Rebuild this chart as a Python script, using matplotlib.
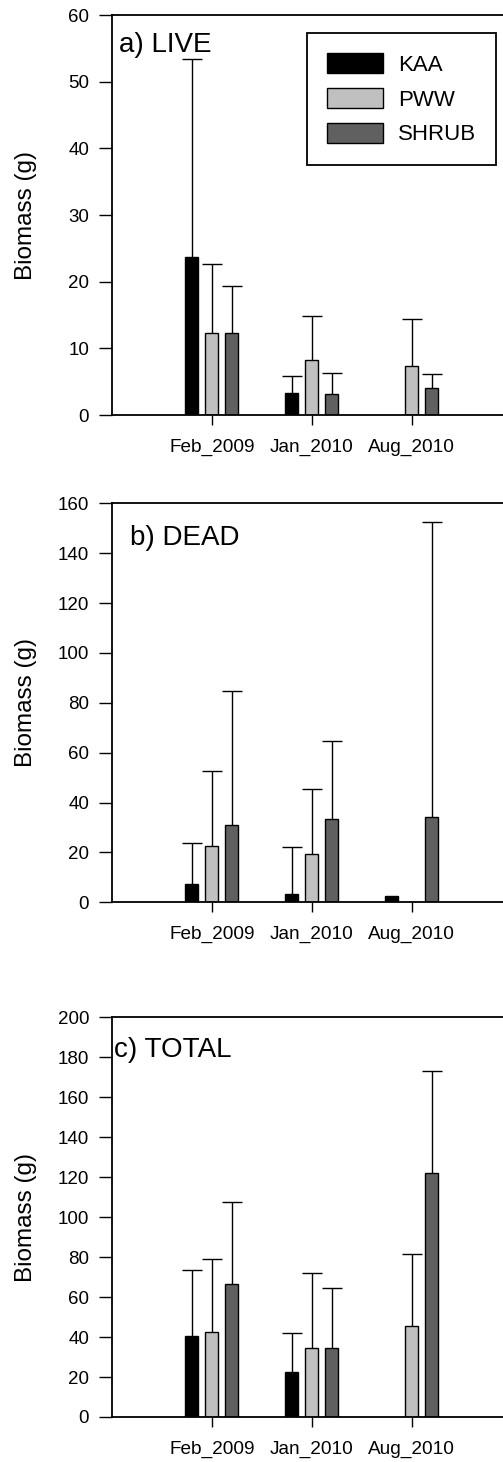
import numpy as np
import matplotlib
matplotlib.use("Agg")
import matplotlib.pyplot as plt

plt.rcParams['font.family'] = ['Liberation Sans', 'DejaVu Sans']

dates = ['Feb_2009', 'Jan_2010', 'Aug_2010']
groups = ['KAA', 'PWW', 'SHRUB']
colors = ['#000000', '#c0c0c0', '#606060']

# mean biomass (g) and upper standard error, nan = no bar
live_mean = {'KAA': [23.65, 3.25, np.nan], 'PWW': [12.25, 8.25, 7.4], 'SHRUB': [12.25, 3.1, 4.1]}
live_err = {'KAA': [29.75, 2.65, np.nan], 'PWW': [10.45, 6.55, 7.0], 'SHRUB': [7.05, 3.15, 2.1]}

dead_mean = {'KAA': [7.35, 3.5, 2.4], 'PWW': [22.7, 19.25, np.nan], 'SHRUB': [31.0, 33.3, 34.4]}
dead_err = {'KAA': [16.45, 18.8, np.nan], 'PWW': [30.0, 26.35, np.nan], 'SHRUB': [53.9, 31.4, 117.9]}

total_mean = {'KAA': [40.4, 22.5, np.nan], 'PWW': [42.5, 34.7, 45.7], 'SHRUB': [66.4, 34.7, 122.3]}
total_err = {'KAA': [33.3, 19.4, np.nan], 'PWW': [36.7, 37.2, 35.7], 'SHRUB': [41.4, 29.9, 50.8]}

panels = [
    ('a) LIVE', live_mean, live_err, 60, 10, (0.0168, 0.908)),
    ('b) DEAD', dead_mean, dead_err, 160, 20, (0.045, 0.8955)),
    ('c) TOTAL', total_mean, total_err, 200, 20, (0.006, 0.9014)),
]
# [left, bottom, width, height] in figure fraction
rects = [
    [0.2227, 0.71614, 0.7946, 0.2736],
    [0.2227, 0.38283, 0.7946, 0.27292],
    [0.2227, 0.03078, 0.7946, 0.27339],
]

fig = plt.figure(figsize=(5.03, 14.62), dpi=100)
x = np.arange(1, len(dates) + 1)
offsets = [-0.2, 0.0, 0.2]
width = 0.13

for i, (title, means, errs, ymax, ystep, tpos) in enumerate(panels):
    ax = fig.add_axes(rects[i])
    for g, c, off in zip(groups, colors, offsets):
        m = np.array(means[g], dtype=float)
        e = np.array(errs[g], dtype=float)
        ax.bar(x + off, m, width, color=c, edgecolor='black', linewidth=1.0, zorder=2)
        ok = ~np.isnan(e) & ~np.isnan(m)
        _, caps, _ = ax.errorbar((x + off)[ok], m[ok], yerr=[np.zeros(ok.sum()), e[ok]], fmt='none',
                                 ecolor='black', elinewidth=1.0, capsize=7.2, capthick=1.0, zorder=1)
        # only the upper cap is shown
        caps[0].set_visible(False)
    ax.set_xlim(0, 4)
    ax.set_ylim(0, ymax)
    ax.set_yticks(np.arange(0, ymax + 1, ystep))
    ax.set_xticks(x)
    ax.set_xticklabels(dates, fontsize=13.7)
    ax.tick_params(axis='y', labelsize=13.5, length=9.4, width=1.0, pad=7, direction='out')
    ax.tick_params(axis='x', length=7, width=1.0, pad=10, direction='out')
    for s in ['left', 'bottom', 'top']:
        ax.spines[s].set_linewidth(1.3)
    ax.spines['right'].set_visible(False)
    ax.set_ylabel('Biomass (g)', fontsize=17.5)
    ax.yaxis.set_label_coords(-0.188, 0.5)
    ax.text(tpos[0], tpos[1], title, transform=ax.transAxes, fontsize=20, va='baseline', ha='left')
    if i == 0:
        handles = [plt.Rectangle((0, 0), 1, 1, facecolor=c, edgecolor='black', linewidth=1.0) for c in colors]
        leg = ax.legend(handles, groups, loc='upper right', bbox_to_anchor=(496 / 503, 1 - 33.3 / 1462),
                        bbox_transform=fig.transFigure, fontsize=16, frameon=True, fancybox=False,
                        framealpha=1, edgecolor='black', handlelength=2.55, handleheight=1.0,
                        handletextpad=0.65, labelspacing=0.55, borderpad=0.9, borderaxespad=0)
        leg.get_frame().set_linewidth(1.3)

fig.savefig('out.png', dpi=100)
